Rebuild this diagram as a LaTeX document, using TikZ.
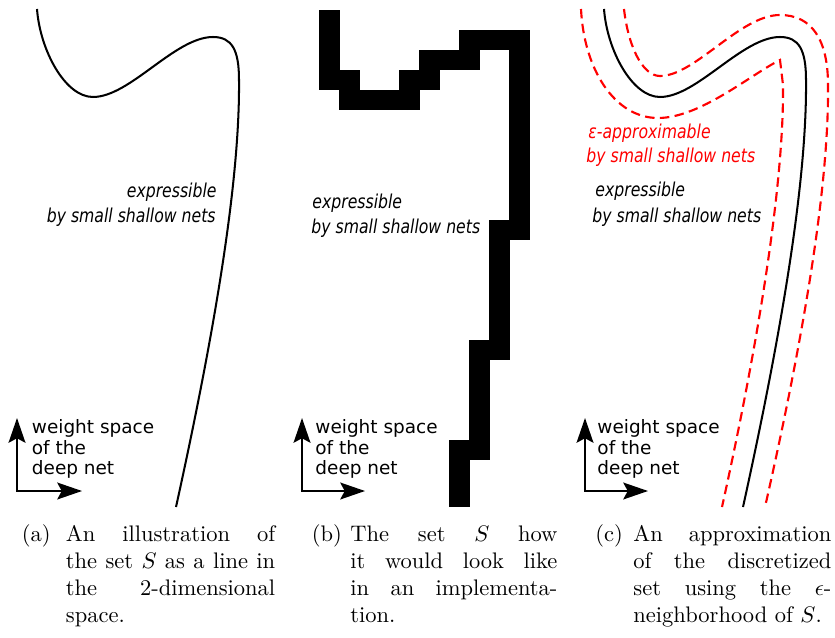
\documentclass[tikz,border=0pt]{standalone}
\usepackage{fontspec}
\usetikzlibrary{arrows.meta}
\newfontfamily\axfont{DejaVu Sans}
\newfontfamily\condfont{DejaVu Sans}[FakeStretch=0.82]
\tikzset{
  curve/.style={line width=0.9pt},
  nbhd/.style={red, line width=0.95pt, dash pattern=on 4.2pt off 2.4pt},
  pix/.style={fill=black},
  axis/.style={line width=0.9pt,
    {Stealth[length=11pt,width=7.5pt,inset=2pt]}-{Stealth[length=11pt,width=7.5pt,inset=2pt]}},
  axlabel/.style={anchor=base west, inner sep=0, font=\axfont\fontsize{8.2pt}{9.2pt}\selectfont},
  setlabel/.style={inner sep=0, font=\condfont\itshape\fontsize{8.5pt}{10pt}\selectfont},
  caplabel/.style={anchor=base west, inner sep=0, font=\fontsize{10pt}{12pt}\selectfont},
}
\begin{document}
\begin{tikzpicture}[x=0.44444pt, y=-0.44444pt]
\useasboundingbox (0,0) rectangle (835,637);

% ---------- panel (a) ----------
\draw[curve] (37,9) .. controls (40,50) and (65,97) .. (93,97)
  .. controls (130,97) and (175,37) .. (213,37)
  .. controls (232,37) and (239,50) .. (239,80)
  .. controls (240,180) and (215,330) .. (176,507);
\node[setlabel, anchor=base east] (a1) at (217,198) {expressible};
\node[setlabel, anchor=base east] (a2) at (216,222) {by small shallow nets};
\coordinate (ao) at (17,491);
\coordinate (ay) at (17,418);
\coordinate (ax) at (82,491);
\draw[axis] (ay) -- (ao) -- (ax);
\node[axlabel] (aw1) at (31.5,433) {weight space};
\node[axlabel] (aw2) at (31.5,454) {of the};
\node[axlabel] (aw3) at (31.5,474.5) {deep net};

% ---------- panel (b) ----------
\fill[pix] (319,10) rectangle (340,90);
\fill[pix] (339,70) rectangle (360,110);
\fill[pix] (339,90) rectangle (420,110);
\fill[pix] (399,70) rectangle (440,90);
\fill[pix] (419,50) rectangle (480,70);
\fill[pix] (459,30) rectangle (530,50);
\fill[pix] (509,30) rectangle (530,240);
\fill[pix] (489,220) rectangle (510,360);
\fill[pix] (469,340) rectangle (490,460);
\fill[pix] (449,440) rectangle (470,507);
\node[setlabel, anchor=base west] (b1) at (312,208.5) {expressible};
\node[setlabel, anchor=base west] (b2) at (311,233) {by small shallow nets};
\coordinate (bo) at (302,491);
\coordinate (by) at (302,418);
\coordinate (bx) at (365,491);
\draw[axis] (by) -- (bo) -- (bx);
\node[axlabel] (bw1) at (315,433) {weight space};
\node[axlabel] (bw2) at (315,454) {of the};
\node[axlabel] (bw3) at (315,474.5) {deep net};

% ---------- panel (c) ----------
\begin{scope}[shift={(567,0)}]
\draw[curve] (37,9) .. controls (40,50) and (65,97) .. (93,97)
  .. controls (130,97) and (175,37) .. (213,37)
  .. controls (232,37) and (239,50) .. (239,80)
  .. controls (240,180) and (215,330) .. (176,507);
\end{scope}
\draw[nbhd] (624,9) .. controls (628,45) and (642,76) .. (660,76)
  .. controls (695,76) and (740,15) .. (780,15)
  .. controls (812,15) and (828,40) .. (828,85)
  .. controls (829,185) and (804,335) .. (765,507);
\draw[nbhd] (581,9) .. controls (584,70) and (615,118) .. (658,118)
  .. controls (700,118) and (750,75) .. (780,60)
  -- (783,85)
  .. controls (784,180) and (760,335) .. (722,507);
\node[setlabel, anchor=base west, text=red] (c1) at (588,138.5) {ε-approximable};
\node[setlabel, anchor=base west, text=red] (c2) at (586,163) {by small shallow nets};
\node[setlabel, anchor=base west] (c3) at (595,197) {expressible};
\node[setlabel, anchor=base west] (c4) at (592,222) {by small shallow nets};
\coordinate (co) at (585,491);
\coordinate (cy) at (585,418);
\coordinate (cx) at (648,491);
\draw[axis] (cy) -- (co) -- (cx);
\node[axlabel] (cw1) at (597,433) {weight space};
\node[axlabel] (cw2) at (597,454) {of the};
\node[axlabel] (cw3) at (597,474.5) {deep net};

% ---------- captions ----------
\node[caplabel] (la) at (21.5,541) {(a)};
\node[caplabel] (ta) at (65.5,541) {\parbox[t]{93pt}{An illustration of\linebreak the set $S$ as a line in\linebreak the 2-dimensional\linebreak space.}};
\node[caplabel] (lb) at (311.5,541) {(b)};
\node[caplabel] (tb) at (350,541) {\parbox[t]{92pt}{The set $S$ how\linebreak it would look like\linebreak in an implementa-\linebreak tion.}};
\node[caplabel] (lc) at (595,541) {(c)};
\node[caplabel] (tc) at (633,541) {\parbox[t]{88pt}{An approximation\linebreak of the discretized\linebreak set using the $\epsilon$-\linebreak neighborhood of $S$.}};
\end{tikzpicture}
\end{document}
